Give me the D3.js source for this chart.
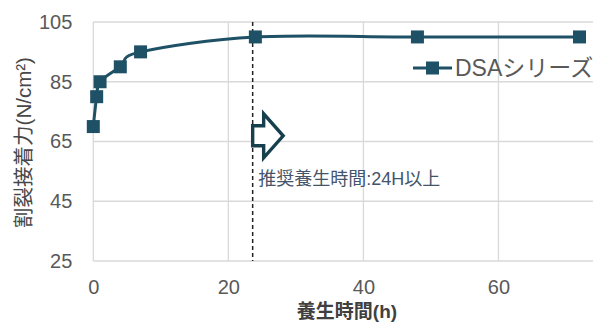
<!DOCTYPE html>
<html><head><meta charset="utf-8">
<script src="https://cdn.jsdelivr.net/npm/d3@7"></script>
<style>
html,body{margin:0;padding:0;background:#fff;}
svg{display:block;}
text{font-family:"Liberation Sans","Noto Sans CJK JP",sans-serif;}
</style></head>
<body>
<svg id="chart" width="604" height="323"></svg>
<script>
const hours = [0, 0.5, 1, 4, 7, 24, 48, 72];
const strength = [70, 80, 85, 90, 95, 100, 100, 100];
const xTicks = [0, 20, 40, 60];
const yTicks = [25, 45, 65, 85, 105];
const seriesName = "DSAシリーズ";
const xTitle = "養生時間(h)";
const yTitle = "割裂接着力(N/cm²)";
const noteText = "推奨養生時間:24H以上";
const recommendedHour = 23.6;
const arrowLevel = 66.9;

const color = "#1f5166";
const svg = d3.select("#chart");
const x = d3.scaleLinear().domain([0, 74]).range([93.3, 593]);
const y = d3.scaleLinear().domain([25, 105]).range([261, 22]);

// gridlines
svg.append("g").selectAll("line").data(yTicks).join("line")
  .attr("x1", x(0)).attr("x2", x(74)).attr("y1", d => y(d)).attr("y2", d => y(d))
  .attr("stroke", "#d9d9d9").attr("stroke-width", 1.3);
svg.append("g").selectAll("line").data(xTicks).join("line")
  .attr("x1", d => x(d)).attr("x2", d => x(d)).attr("y1", y(105)).attr("y2", y(25))
  .attr("stroke", "#d9d9d9").attr("stroke-width", 1.3);

// axes (labels only)
const yAxis = svg.append("g").attr("transform", `translate(${x(0)},0)`)
  .call(d3.axisLeft(y).tickValues(yTicks).tickSize(0).tickPadding(21));
yAxis.select(".domain").remove();
yAxis.selectAll("text").attr("font-size", 20).attr("fill", "#595959")
  .attr("font-family", "Liberation Sans, sans-serif");
const xAxis = svg.append("g").attr("transform", `translate(0,${y(25)})`)
  .call(d3.axisBottom(x).tickValues(xTicks).tickSize(0).tickPadding(19));
xAxis.select(".domain").remove();
xAxis.selectAll("text").attr("font-size", 20).attr("fill", "#595959")
  .attr("font-family", "Liberation Sans, sans-serif");

// recommended line
svg.append("line")
  .attr("x1", x(recommendedHour)).attr("x2", x(recommendedHour))
  .attr("y1", y(105)).attr("y2", y(25))
  .attr("stroke", "#222").attr("stroke-width", 1.5).attr("stroke-dasharray", "4,3");

// arrow
const ax = x(recommendedHour), ay = y(arrowLevel);
const arrowPts = [[0,-10],[11,-10],[11,-22],[30.5,0],[11,22],[11,10],[0,10]];
svg.append("path")
  .attr("d", d3.line()(arrowPts.map(p => [ax + p[0], ay + p[1]])) + "Z")
  .attr("fill", "#fff").attr("stroke", "#17404f").attr("stroke-width", 3.4)
  .attr("stroke-linejoin", "miter");

svg.append("text").attr("x", ax + 5.5).attr("y", 185)
  .attr("font-size", 18).attr("fill", "#44546a").text(noteText);

// series
const pts = hours.map((h, i) => [h, strength[i]]);
svg.append("path").datum(pts)
  .attr("d", d3.line().x(d => x(d[0])).y(d => y(d[1])).curve(d3.curveCardinal.tension(0)))
  .attr("fill", "none").attr("stroke", color).attr("stroke-width", 3);
svg.append("g").selectAll("rect").data(pts).join("rect")
  .attr("x", d => x(d[0]) - 6.5).attr("y", d => y(d[1]) - 6.5)
  .attr("width", 13).attr("height", 13).attr("fill", color);

// legend
const lg = svg.append("g").attr("transform", "translate(413,68)");
lg.append("line").attr("x1", 0).attr("x2", 39).attr("stroke", color).attr("stroke-width", 3);
lg.append("rect").attr("x", 13).attr("y", -6.5).attr("width", 13).attr("height", 13).attr("fill", color);
lg.append("text").attr("x", 42).attr("y", 8).attr("font-size", 23).attr("fill", "#595959").text(seriesName);

// titles
svg.append("text").attr("x", 347).attr("y", 318).attr("text-anchor", "middle")
  .attr("font-size", 19).attr("font-weight", "bold").attr("fill", "#404040").text(xTitle);
svg.append("text").attr("transform", "translate(31,142.5) rotate(-90)").attr("text-anchor", "middle")
  .attr("font-size", 20.5).attr("fill", "#484848").text(yTitle);
</script>
</body></html>
